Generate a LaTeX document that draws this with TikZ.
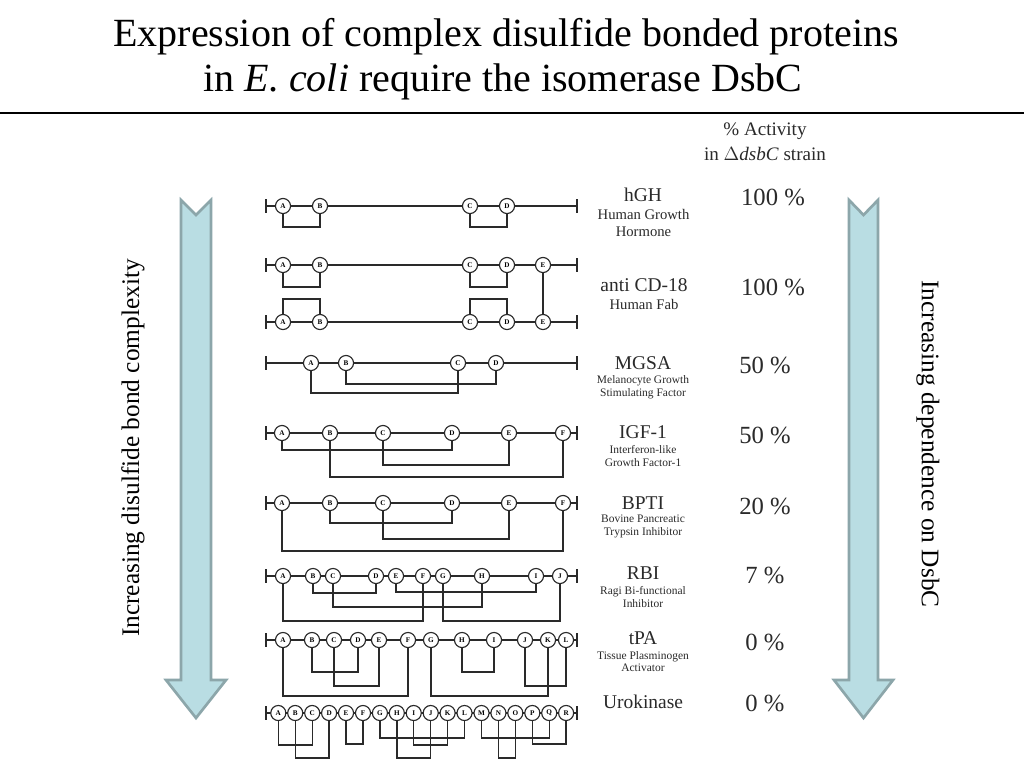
\documentclass[tikz,border=0pt]{standalone}
\usepackage{fontspec}
\setmainfont{Liberation Serif}
\definecolor{arrfill}{HTML}{B9DDE3}
\definecolor{arrdraw}{HTML}{8CA6AA}
\definecolor{ink}{HTML}{2A2A2A}
\tikzset{
  cys/.style={circle,draw=ink,fill=white,line width=0.85pt,minimum size=11.3pt,inner sep=0pt,
    font=\fontsize{5.4}{5.6}\selectfont\bfseries},
  backbone/.style={line width=1.3pt,draw=ink},
  bondline/.style={line width=1.05pt,draw=ink},
  bigarrow/.style={fill=arrfill,draw=arrdraw,line width=2pt,line join=miter},
  pname/.style={font=\fontsize{14.6}{16}\selectfont,text=ink},
  subA/.style={font=\fontsize{11}{12.5}\selectfont,align=center,text=ink},
  subB/.style={font=\fontsize{8.6}{9.5}\selectfont,align=center,text=ink},
  pct/.style={font=\fontsize{18.5}{20}\selectfont,text=ink},
}
\newcommand\prot[3]{%
  \coordinate (#1s) at (266,#2);
  \coordinate (#1e) at (577,#2);
  \draw[backbone] (#1s) -- (#1e);
  \draw[backbone] ([yshift=-5pt]#1s) -- ([yshift=5pt]#1s);
  \draw[backbone] ([yshift=-5pt]#1e) -- ([yshift=5pt]#1e);
  \foreach \l/\xx in {#3} {\node[cys] (#1\l) at (\xx,#2) {\l};}
}
\newcommand\bd[4]{\draw[bondline] (#1#2.south) -- (#1#2 |- 0,#4) -| (#1#3.south);}
\newcommand\bu[4]{\draw[bondline] (#1#2.north) -- (#1#2 |- 0,#4) -| (#1#3.north);}
\begin{document}
\begin{tikzpicture}[x=0.75pt,y=-0.75pt]
\useasboundingbox[fill=white] (0,0) rectangle (1024,768);
% title
\node[font=\fontsize{30}{34}\selectfont] (t1) at (506,37) {Expression of complex disulfide bonded proteins};
\node[font=\fontsize{30}{34}\selectfont] (t2) at (503,82) {in \textit{E. coli} require the isomerase DsbC};
\draw[line width=1.2pt] (0,113) -- (1024,113);
% header
\node[font=\fontsize{14.3}{18.5}\selectfont,align=center,text=ink] (hdr) at (765,142) {\% Activity\\in $\Delta$\textit{dsbC} strain};
% arrows
\draw[bigarrow] (181,200) -- (196,215) -- (211,200) -- (211,680) -- (226,680) -- (196,718) -- (166,680) -- (181,680) -- cycle;
\draw[bigarrow] (849,200) -- (863.5,215) -- (878,200) -- (878,680) -- (893,680) -- (863.5,718) -- (834,680) -- (849,680) -- cycle;
\node[font=\fontsize{19}{20}\selectfont,rotate=90] (lt) at (133,448) {Increasing disulfide bond complexity};
\node[font=\fontsize{19}{20}\selectfont,rotate=-90] (rt) at (928,444) {Increasing dependence on DsbC};
% hGH
\prot{h}{206}{A/283,B/320,C/470,D/507}
\bd{h}{A}{B}{227}\bd{h}{C}{D}{227}
% anti CD-18
\prot{ca}{265}{A/283,B/320,C/470,D/507,E/543}
\prot{cb}{322}{A/283,B/320,C/470,D/507,E/543}
\bd{ca}{A}{B}{287}\bd{ca}{C}{D}{287}
\bu{cb}{A}{B}{299}\bu{cb}{C}{D}{299}
\draw[bondline] (caE.south) -- (cbE.north);
% MGSA
\prot{m}{363}{A/311,B/346,C/458,D/496}
\bd{m}{B}{D}{384}\bd{m}{A}{C}{393}
% IGF-1
\prot{i}{433}{A/282,B/330,C/383,D/452,E/509,F/563}
\bd{i}{A}{D}{450}\bd{i}{C}{E}{465}\bd{i}{B}{F}{477}
% BPTI
\prot{p}{503}{A/282,B/330,C/383,D/452,E/509,F/563}
\bd{p}{B}{D}{523}\bd{p}{C}{E}{539}\bd{p}{A}{F}{551}
% RBI
\prot{r}{576}{A/283,B/313,C/333,D/376,E/396,F/423,G/443,H/482,I/536,J/560}
\bd{r}{B}{D}{593}\bd{r}{E}{I}{592}\bd{r}{C}{H}{607}\bd{r}{A}{F}{621}\bd{r}{G}{J}{621}
% tPA
\prot{t}{640}{A/283,B/312,C/334,D/358,E/379,F/408,G/431,H/462,I/494,J/525,K/548,L/566}
\bd{t}{B}{D}{672}\bd{t}{H}{I}{672}\bd{t}{C}{E}{686}\bd{t}{J}{L}{686}\bd{t}{A}{F}{696}\bd{t}{G}{K}{696}
% Urokinase
\prot{u}{713}{A/278.3,B/295.2,C/312.2,D/329.1,E/346.0,F/363.0,G/379.9,H/396.8,I/413.7,J/430.7,K/447.6,L/464.5,M/481.5,N/498.4,O/515.3,P/532.3,Q/549.2,R/566.1}
\bd{u}{A}{C}{745}\bd{u}{B}{D}{758}\bd{u}{E}{F}{744}\bd{u}{G}{L}{738}\bd{u}{H}{J}{758}\bd{u}{I}{K}{745}\bd{u}{M}{Q}{738}\bd{u}{N}{O}{758}\bd{u}{P}{R}{744}
% names
\node[pname] (n1) at (643,195) {hGH};
\node[subA] (s1) at (643.5,222.7) {Human Growth\\Hormone};
\node[pname] (n2) at (644,285) {anti CD-18};
\node[subA] (s2) at (644,304) {Human Fab};
\node[pname] (n3) at (643,363) {MGSA};
\node[subB] (s3) at (643,387) {Melanocyte Growth\\Stimulating Factor};
\node[pname] (n4) at (643,432) {IGF-1};
\node[subB] (s4) at (643,456.3) {Interferon-like\\Growth Factor-1};
\node[pname] (n5) at (643,503) {BPTI};
\node[subB] (s5) at (643,526.3) {Bovine Pancreatic\\Trypsin Inhibitor};
\node[pname] (n6) at (643,573) {RBI};
\node[subB] (s6) at (643,597.3) {Ragi Bi-functional\\Inhibitor};
\node[pname] (n7) at (643,638) {tPA};
\node[subB] (s7) at (643,661.7) {Tissue Plasminogen\\Activator};
\node[pname] (n8) at (643,702) {Urokinase};
% percentages
\node[pct] (p1) at (773,197) {100 \%};
\node[pct] (p2) at (773,287) {100 \%};
\node[pct] (p3) at (765,365) {50 \%};
\node[pct] (p4) at (765,435) {50 \%};
\node[pct] (p5) at (765,506) {20 \%};
\node[pct] (p6) at (765,575) {7 \%};
\node[pct] (p7) at (765,642) {0 \%};
\node[pct] (p8) at (765,703) {0 \%};
\end{tikzpicture}
\end{document}
